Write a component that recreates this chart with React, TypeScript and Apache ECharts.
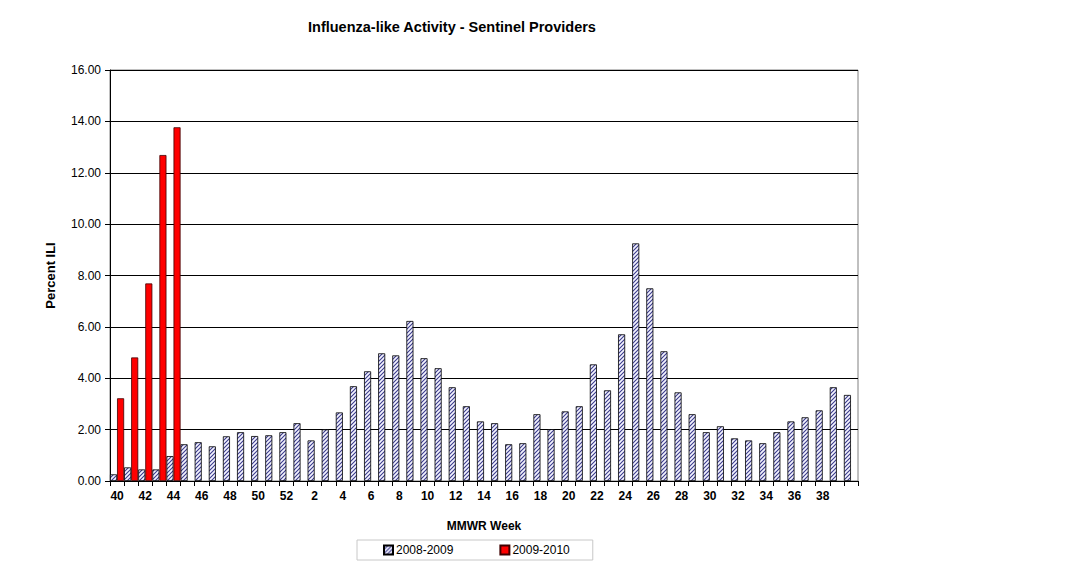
import React, { useEffect, useRef } from "react";
import * as echarts from "echarts";

const weeks = [
  "40", "41", "42", "43", "44", "45", "46", "47", "48", "49", "50", "51", "52",
  "1", "2", "3", "4", "5", "6", "7", "8", "9", "10", "11", "12", "13", "14", "15",
  "16", "17", "18", "19", "20", "21", "22", "23", "24", "25", "26", "27", "28",
  "29", "30", "31", "32", "33", "34", "35", "36", "37", "38", "39", "40",
];

const season0809 = [
  0.26, 0.53, 0.45, 0.45, 0.97, 1.43, 1.51, 1.35, 1.74, 1.9, 1.75, 1.78, 1.9,
  2.25, 1.58, 2.01, 2.67, 3.69, 4.27, 4.97, 4.89, 6.23, 4.78, 4.39, 3.65, 2.91,
  2.32, 2.25, 1.43, 1.47, 2.6, 2.02, 2.71, 2.91, 4.54, 3.53, 5.71, 9.25, 7.5,
  5.05, 3.45, 2.6, 1.9, 2.13, 1.66, 1.58, 1.47, 1.9, 2.32, 2.48, 2.75, 3.65, 3.35,
];

const season0910 = [3.22, 4.81, 7.69, 12.69, 13.77];

const seriesNames = ["2008-2009", "2009-2010"];

const FONT = "'Liberation Sans', Arial, sans-serif";

function makeHatch(): HTMLCanvasElement {
  const c = document.createElement("canvas");
  c.width = 4;
  c.height = 4;
  const ctx = c.getContext("2d")!;
  ctx.fillStyle = "#f4f4ff";
  ctx.fillRect(0, 0, 4, 4);
  ctx.strokeStyle = "#3a3a8c";
  ctx.lineWidth = 1.1;
  ctx.beginPath();
  ctx.moveTo(0, 4);
  ctx.lineTo(4, 0);
  ctx.moveTo(-1, 1);
  ctx.lineTo(1, -1);
  ctx.moveTo(3, 5);
  ctx.lineTo(5, 3);
  ctx.stroke();
  return c;
}

export default function App() {
  const ref = useRef<HTMLDivElement>(null);

  useEffect(() => {
    document.body.style.margin = "0";
    if (!ref.current) return;
    const chart = echarts.init(ref.current, undefined, { renderer: "svg" });
    const hatch = { image: makeHatch(), repeat: "repeat" } as any;

    chart.setOption({
      animation: false,
      backgroundColor: "#ffffff",
      textStyle: { fontFamily: FONT },
      title: {
        text: "Influenza-like Activity - Sentinel Providers",
        left: 308,
        top: 19,
        padding: 0,
        textStyle: { fontFamily: FONT, fontSize: 14.5, fontWeight: "bold", color: "#000" },
      },
      legend: {
        left: 357,
        top: 540,
        orient: "horizontal",
        padding: [4, 23, 4, 26],
        itemGap: 46,
        itemWidth: 9,
        itemHeight: 9,
        borderColor: "#c8c8c8",
        borderWidth: 1,
        textStyle: { fontFamily: FONT, fontSize: 12, color: "#000", padding: [0, 0, 0, -2] },
        data: [
          { name: seriesNames[0], icon: "rect" },
          { name: seriesNames[1], icon: "rect" },
        ],
      },
      grid: {
        left: 110,
        right: 223,
        top: 70,
        bottom: 88,
        show: true,
        borderColor: "#808080",
        borderWidth: 1,
      },
      xAxis: {
        type: "category",
        data: weeks,
        name: "MMWR Week",
        nameLocation: "middle",
        nameGap: 39,
        nameTextStyle: { fontFamily: FONT, fontSize: 12, fontWeight: "bold", color: "#000" },
        axisLine: { lineStyle: { color: "#000", width: 1 } },
        axisTick: { show: true, interval: 0, length: 5, lineStyle: { color: "#000" } },
        axisLabel: {
          interval: (i: number) => i % 2 === 0 && i < weeks.length - 1,
          margin: 9,
          fontFamily: FONT,
          fontSize: 12,
          fontWeight: "bold",
          color: "#000",
        },
      },
      yAxis: {
        type: "value",
        min: 0,
        max: 16,
        interval: 2,
        name: "Percent ILI",
        nameLocation: "middle",
        nameRotate: 90,
        nameGap: 53,
        nameTextStyle: { fontFamily: FONT, fontSize: 13, fontWeight: "bold", color: "#000" },
        axisLine: { show: true, lineStyle: { color: "#000", width: 1 } },
        axisTick: { show: true, length: 5, lineStyle: { color: "#000" } },
        axisLabel: {
          margin: 9,
          fontFamily: FONT,
          fontSize: 12,
          color: "#000",
          formatter: (v: number) => v.toFixed(2),
        },
        splitLine: { show: true, lineStyle: { color: "#000", width: 1 } },
      },
      series: [
        {
          name: seriesNames[0],
          type: "bar",
          data: season0809,
          barGap: "0%",
          barCategoryGap: "0%",
          itemStyle: { color: hatch, borderColor: "#000", borderWidth: 0.8 },
        },
        {
          name: seriesNames[1],
          type: "bar",
          data: season0910,
          barGap: "0%",
          barCategoryGap: "0%",
          itemStyle: { color: "#ff0000", borderColor: "#400000", borderWidth: 0.8 },
        },
      ],
    });

    return () => chart.dispose();
  }, []);

  return <div ref={ref} style={{ width: 1081, height: 569 }} />;
}
